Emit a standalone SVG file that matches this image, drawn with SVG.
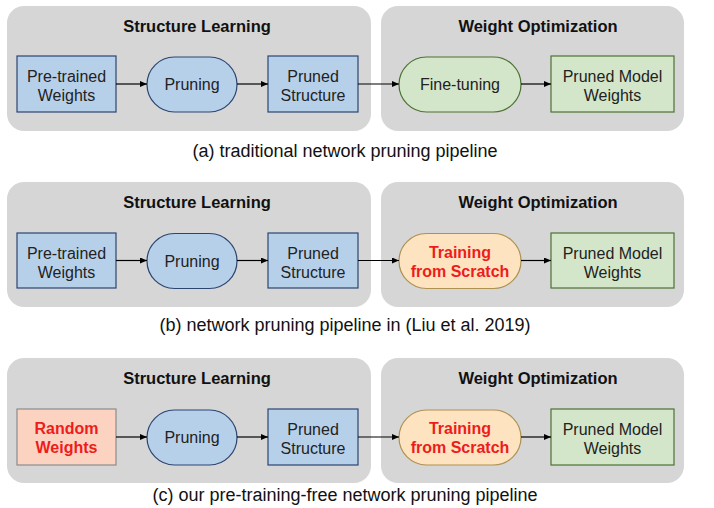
<svg xmlns="http://www.w3.org/2000/svg" width="714" height="508" viewBox="0 0 714 508">
<style>
.panel{fill:#d6d6d6;stroke:none}
.ptitle{font-family:"Liberation Sans",Arial,sans-serif;font-size:16.5px;font-weight:bold;fill:#111;text-anchor:middle}
.lbl{font-family:"Liberation Sans",Arial,sans-serif;font-size:16px;fill:#222;text-anchor:middle}
.red{font-weight:bold;fill:#ee1c1c}
.cap{font-family:"Liberation Sans",Arial,sans-serif;font-size:18px;fill:#111;text-anchor:middle}
.blue{fill:#b7d0ea;stroke:#2b4571;stroke-width:1.2}
.green{fill:#d4e6c9;stroke:#4a7232;stroke-width:1.2}
.orange{fill:#fde3bf;stroke:#ad9252;stroke-width:1.2}
.salmon{fill:#fcd3c1;stroke:#8c8c8c;stroke-width:1.2}
.conn{stroke:#000;stroke-width:1.2;fill:none;marker-end:url(#ah)}
</style>
<defs>
<marker id="ah" markerWidth="7" markerHeight="6" refX="7" refY="3" orient="auto" markerUnits="userSpaceOnUse">
<path d="M0,0 L7,3 L0,6 z" fill="#000"/>
</marker>
</defs>
<rect width="714" height="508" fill="#fff"/>

<!-- Row A -->
<g id="rowA">
<g id="a-structure-panel"><rect class="panel" x="7" y="6" width="364" height="125" rx="17"/><text class="ptitle" x="197" y="32">Structure Learning</text></g>
<g id="a-weight-panel"><rect class="panel" x="381" y="6" width="303" height="125" rx="17"/><text class="ptitle" x="538" y="32">Weight Optimization</text></g>
<g id="a-pretrained"><rect class="blue" x="17" y="56" width="99" height="56"/><text class="lbl" x="66.5" y="82">Pre-trained</text><text class="lbl" x="66.5" y="101">Weights</text></g>
<g id="a-pruning"><rect class="blue" x="147" y="57" width="90" height="55" rx="27.5"/><text class="lbl" x="192" y="90">Pruning</text></g>
<g id="a-pruned-structure"><rect class="blue" x="268" y="56" width="90" height="56"/><text class="lbl" x="313" y="82">Pruned</text><text class="lbl" x="313" y="101">Structure</text></g>
<g id="a-finetuning"><rect class="green" x="399" y="57" width="122" height="55" rx="27.5"/><text class="lbl" x="460" y="90">Fine-tuning</text></g>
<g id="a-pruned-model"><rect class="green" x="551" y="56" width="123" height="56"/><text class="lbl" x="612.5" y="82">Pruned Model</text><text class="lbl" x="612.5" y="101">Weights</text></g>
<text class="cap" x="345" y="157">(a) traditional network pruning pipeline</text>
</g>

<!-- Row B -->
<g id="rowB">
<g id="b-structure-panel"><rect class="panel" x="7" y="182" width="364" height="125" rx="17"/><text class="ptitle" x="197" y="208">Structure Learning</text></g>
<g id="b-weight-panel"><rect class="panel" x="381" y="182" width="303" height="125" rx="17"/><text class="ptitle" x="538" y="208">Weight Optimization</text></g>
<g id="b-pretrained"><rect class="blue" x="17" y="233" width="99" height="55"/><text class="lbl" x="66.5" y="258.5">Pre-trained</text><text class="lbl" x="66.5" y="277.5">Weights</text></g>
<g id="b-pruning"><rect class="blue" x="147" y="233.5" width="90" height="55" rx="27.5"/><text class="lbl" x="192" y="266.5">Pruning</text></g>
<g id="b-pruned-structure"><rect class="blue" x="268" y="233" width="90" height="55"/><text class="lbl" x="313" y="258.5">Pruned</text><text class="lbl" x="313" y="277.5">Structure</text></g>
<g id="b-training"><rect class="orange" x="399" y="233.5" width="122" height="55" rx="27.5"/><text class="lbl red" x="460" y="257.5">Training</text><text class="lbl red" x="460" y="276.5">from Scratch</text></g>
<g id="b-pruned-model"><rect class="green" x="551" y="233" width="123" height="55"/><text class="lbl" x="612.5" y="258.5">Pruned Model</text><text class="lbl" x="612.5" y="277.5">Weights</text></g>
<text class="cap" x="345" y="331">(b) network pruning pipeline in (Liu et al. 2019)</text>
</g>

<!-- Row C -->
<g id="rowC">
<g id="c-structure-panel"><rect class="panel" x="7" y="358" width="364" height="125" rx="17"/><text class="ptitle" x="197" y="384">Structure Learning</text></g>
<g id="c-weight-panel"><rect class="panel" x="381" y="358" width="303" height="125" rx="17"/><text class="ptitle" x="538" y="384">Weight Optimization</text></g>
<g id="c-random"><rect class="salmon" x="17" y="409" width="99" height="56"/><text class="lbl red" x="66.5" y="434">Random</text><text class="lbl red" x="66.5" y="453">Weights</text></g>
<g id="c-pruning"><rect class="blue" x="147" y="410" width="90" height="55" rx="27.5"/><text class="lbl" x="192" y="443">Pruning</text></g>
<g id="c-pruned-structure"><rect class="blue" x="268" y="409" width="90" height="56"/><text class="lbl" x="313" y="435">Pruned</text><text class="lbl" x="313" y="454">Structure</text></g>
<g id="c-training"><rect class="orange" x="399" y="410" width="122" height="55" rx="27.5"/><text class="lbl red" x="460" y="434">Training</text><text class="lbl red" x="460" y="453">from Scratch</text></g>
<g id="c-pruned-model"><rect class="green" x="551" y="409" width="123" height="56"/><text class="lbl" x="612.5" y="435">Pruned Model</text><text class="lbl" x="612.5" y="454">Weights</text></g>
<text class="cap" x="345" y="501">(c) our pre-training-free network pruning pipeline</text>
</g>

<g id="connectors">
<line class="conn" x1="116" y1="84" x2="147" y2="84"/>
<line class="conn" x1="237" y1="84" x2="268" y2="84"/>
<line class="conn" x1="358" y1="84" x2="399" y2="84"/>
<line class="conn" x1="521" y1="84" x2="551" y2="84"/>
<line class="conn" x1="116" y1="260.5" x2="147" y2="260.5"/>
<line class="conn" x1="237" y1="260.5" x2="268" y2="260.5"/>
<line class="conn" x1="358" y1="260.5" x2="399" y2="260.5"/>
<line class="conn" x1="521" y1="260.5" x2="551" y2="260.5"/>
<line class="conn" x1="116" y1="437" x2="147" y2="437"/>
<line class="conn" x1="237" y1="437" x2="268" y2="437"/>
<line class="conn" x1="358" y1="437" x2="399" y2="437"/>
<line class="conn" x1="521" y1="437" x2="551" y2="437"/>
</g>
</svg>
